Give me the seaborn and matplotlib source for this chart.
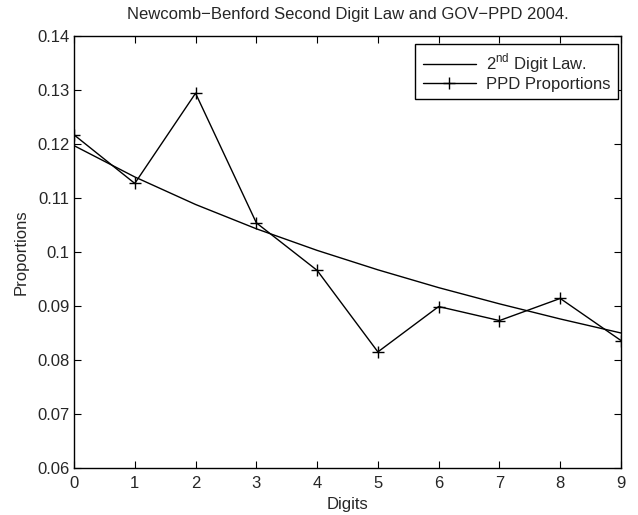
import numpy as np
import pandas as pd
import matplotlib
matplotlib.use("Agg")
import matplotlib.pyplot as plt
import seaborn as sns

# =========================
# Data
# =========================
digits = [0, 1, 2, 3, 4, 5, 6, 7, 8, 9]
benford_second = [0.1197, 0.1139, 0.1088, 0.1043, 0.1003, 0.0967, 0.0934, 0.0904, 0.0876, 0.0850]
ppd_props = [0.1217, 0.1127, 0.1294, 0.1054, 0.0966, 0.0815, 0.0899, 0.0873, 0.0914, 0.0836]

law_label = "2$^{\\mathrm{nd}}$ Digit Law."
ppd_label = "PPD Proportions"

df = pd.DataFrame({"Digits": digits, "law": benford_second, "ppd": ppd_props})

# =========================
# Style
# =========================
sns.set_style("ticks")
plt.rcParams["font.family"] = ["Liberation Sans", "DejaVu Sans"]
plt.rcParams["mathtext.fontset"] = "custom"
plt.rcParams["mathtext.rm"] = "Liberation Sans"
plt.rcParams["xtick.direction"] = "in"
plt.rcParams["ytick.direction"] = "in"

fig = plt.figure(figsize=(6.38, 5.15), dpi=100)
ax = fig.add_axes([74 / 638, 1 - 468 / 515, 547 / 638, 432 / 515])

sns.lineplot(data=df, x="Digits", y="law", ax=ax, color="black", lw=1.0, label=law_label)
sns.lineplot(data=df, x="Digits", y="ppd", ax=ax, color="black", lw=1.0,
             marker="+", markersize=8, markeredgewidth=1.0,
             markeredgecolor="black", markerfacecolor="black", label=ppd_label)

ax.set_xlim(0, 9)
ax.set_ylim(0.06, 0.14)
ax.set_xticks(digits)
yt = [0.06, 0.07, 0.08, 0.09, 0.1, 0.11, 0.12, 0.13, 0.14]
ax.set_yticks(yt)
ax.set_yticklabels(["0.06", "0.07", "0.08", "0.09", "0.1", "0.11", "0.12", "0.13", "0.14"])
ax.tick_params(axis="both", which="both", top=True, right=True, length=5, width=0.8,
               labelsize=12, color="black")
ax.tick_params(axis="x", pad=6)
ax.tick_params(axis="y", pad=3)
for s in ax.spines.values():
    s.set_linewidth(1.0)
    s.set_color("black")

ax.set_xlabel("Digits", fontsize=12, labelpad=4)
ax.set_ylabel("Proportions", fontsize=12, labelpad=6)
ax.set_title("Newcomb\u2212Benford Second Digit Law and GOV\u2212PPD 2004.", fontsize=12, pad=12)

leg = ax.legend(loc="upper right", bbox_to_anchor=(1 - 3 / 547, 1 - 8 / 432), borderaxespad=0,
                fontsize=12, frameon=True, fancybox=False,
                edgecolor="black", framealpha=1,
                handlelength=3.2, labelspacing=0.1, borderpad=0.45, handletextpad=0.6)
leg.get_frame().set_linewidth(1.0)

plt.savefig("out.png", dpi=100)
